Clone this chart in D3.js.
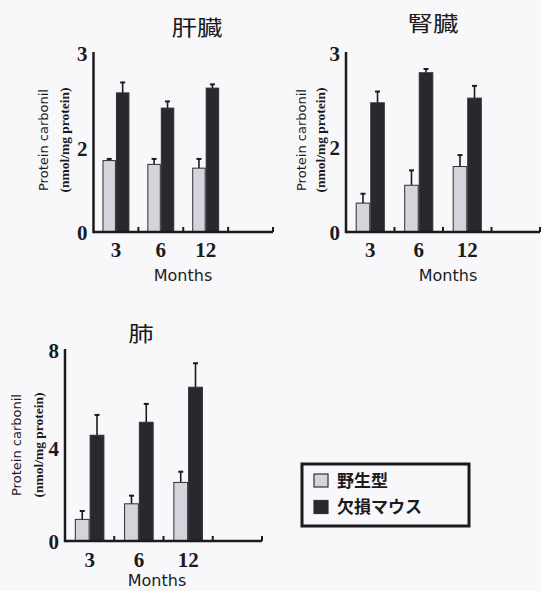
<!DOCTYPE html>
<html>
<head>
<meta charset="utf-8">
<script src="https://cdn.jsdelivr.net/npm/d3@7"></script>
<style>
  html, body { margin: 0; padding: 0; background: #f8f8fb; }
  svg { display: block; }
</style>
</head>
<body>
<svg id="chart" width="541" height="591"></svg>
<script>
// Protein carbonyl content (nmol/mg protein) at 3, 6 and 12 months
const months = ["3", "6", "12"];
const seriesNames = ["野生型", "欠損マウス"];

// 肝臓 (liver)
const liverWild = [1.70, 1.61, 1.52];
const liverWildErr = [0.04, 0.13, 0.22];
const liverKO = [2.58, 2.42, 2.63];
const liverKOErr = [0.11, 0.07, 0.04];
const liverTicks = [0, 2, 3];

// 腎臓 (kidney)
const kidneyWild = [0.68, 1.10, 1.54];
const kidneyWildErr = [0.22, 0.35, 0.27];
const kidneyKO = [2.47, 2.79, 2.52];
const kidneyKOErr = [0.12, 0.04, 0.13];
const kidneyTicks = [0, 2, 3];

// 肺 (lung)
const lungWild = [0.93, 1.60, 2.52];
const lungWildErr = [0.36, 0.35, 0.46];
const lungKO = [4.52, 5.05, 6.48];
const lungKOErr = [0.83, 0.75, 0.98];
const lungTicks = [0, 4, 8];

const colors = { wild: "#d4d4dd", ko: "#27292e", ink: "#1b1b1e" };

const svg = d3.select("#chart");

const panels = [
  { title: "肝臓", wild: liverWild, wildErr: liverWildErr, ko: liverKO, koErr: liverKOErr,
    ticks: liverTicks, x0: 93.5, x1: 273, yRange: [232, 148, 53],
    titleX: 197, titleY: 28, labelX: 44, label2X: 64, labelY: 140, monthsX: 183, monthsY: 275, tickY: 250 },
  { title: "腎臓", wild: kidneyWild, wildErr: kidneyWildErr, ko: kidneyKO, koErr: kidneyKOErr,
    ticks: kidneyTicks, x0: 346, x1: 540, yRange: [232, 147, 53],
    titleX: 433, titleY: 24, labelX: 302, label2X: 320, labelY: 140, monthsX: 448, monthsY: 275, tickY: 250 },
  { title: "肺", wild: lungWild, wildErr: lungWildErr, ko: lungKO, koErr: lungKOErr,
    ticks: lungTicks, x0: 65, x1: 262, yRange: [541, 448, 350],
    titleX: 141, titleY: 334, labelX: 17, label2X: 38, labelY: 445, monthsX: 157, monthsY: 580, tickY: 560 }
];

panels.forEach(p => {
  const g = svg.append("g");
  // four month slots on the axis, the last one left empty
  const x = d3.scaleBand().domain([...months, "24"]).range([p.x0, p.x1]).padding(0);
  const bw = x.bandwidth();
  const inner = d3.scaleBand().domain(["wild", "ko"]).range([bw * 0.2, bw * 0.8]).padding(0);
  const y = d3.scaleLinear().domain(p.ticks).range(p.yRange);
  const base = y(0);

  const rows = [];
  months.forEach((m, i) => {
    rows.push({ m, key: "wild", v: p.wild[i], e: p.wildErr[i] });
    rows.push({ m, key: "ko", v: p.ko[i], e: p.koErr[i] });
  });

  // error whiskers (upper only)
  const cx = d => x(d.m) + inner(d.key) + inner.bandwidth() / 2;
  g.selectAll("line.err").data(rows).join("line")
    .attr("x1", cx).attr("x2", cx)
    .attr("y1", d => y(d.v)).attr("y2", d => y(d.v + d.e))
    .attr("stroke", colors.ink).attr("stroke-width", 1.6);
  g.selectAll("line.cap").data(rows).join("line")
    .attr("x1", d => cx(d) - 2.5).attr("x2", d => cx(d) + 2.5)
    .attr("y1", d => y(d.v + d.e)).attr("y2", d => y(d.v + d.e))
    .attr("stroke", colors.ink).attr("stroke-width", 2);

  // bars
  g.selectAll("rect.bar").data(rows).join("rect")
    .attr("x", d => x(d.m) + inner(d.key) + 0.5)
    .attr("y", d => y(d.v))
    .attr("width", inner.bandwidth() - 1)
    .attr("height", d => base - y(d.v))
    .attr("fill", d => colors[d.key])
    .attr("stroke", "#2e2e33")
    .attr("stroke-width", 1);

  // y axis
  const yAxis = d3.axisLeft(y).tickValues(p.ticks).tickSize(0).tickPadding(6).tickFormat(d3.format("d"));
  const ya = g.append("g").attr("transform", `translate(${p.x0},0)`).call(yAxis);
  ya.select(".domain").remove();
  ya.selectAll("text")
    .attr("font-family", "'Liberation Serif', 'Times New Roman', serif")
    .attr("font-weight", "bold").attr("font-size", 21).attr("fill", colors.ink)
    .attr("dy", "0.35em");
  g.append("line")
    .attr("x1", p.x0).attr("x2", p.x0)
    .attr("y1", y(p.ticks[p.ticks.length - 1]) - 1).attr("y2", base + 1.2)
    .attr("stroke", colors.ink).attr("stroke-width", 2.5);

  // x axis with short upward ticks at slot boundaries
  g.append("line")
    .attr("x1", p.x0).attr("x2", p.x1)
    .attr("y1", base).attr("y2", base)
    .attr("stroke", colors.ink).attr("stroke-width", 2.5);
  const bounds = x.domain().map(d => x(d) + bw);
  g.selectAll("line.xt").data(bounds).join("line")
    .attr("x1", d => d).attr("x2", d => d)
    .attr("y1", base).attr("y2", base - 5)
    .attr("stroke", colors.ink).attr("stroke-width", 2);

  g.selectAll("text.xl").data(months).join("text")
    .attr("x", d => x(d) + inner.range()[0] + (inner.range()[1] - inner.range()[0]) / 2)
    .attr("y", p.tickY)
    .attr("dy", "0.35em")
    .attr("text-anchor", "middle")
    .attr("font-family", "'Liberation Serif', 'Times New Roman', serif")
    .attr("font-weight", "bold").attr("font-size", 21).attr("fill", colors.ink)
    .text(d => d);

  g.append("text")
    .attr("x", p.monthsX).attr("y", p.monthsY).attr("dy", "0.35em")
    .attr("text-anchor", "middle")
    .attr("font-family", "'DejaVu Sans', sans-serif").attr("font-size", 16)
    .attr("fill", colors.ink)
    .text("Months");

  // y-axis title, two rotated lines
  g.append("text")
    .attr("transform", `translate(${p.labelX},${p.labelY}) rotate(-90)`)
    .attr("dy", "0.35em").attr("text-anchor", "middle")
    .attr("font-family", "'DejaVu Sans', sans-serif").attr("font-size", 12.5)
    .attr("textLength", 102).attr("lengthAdjust", "spacingAndGlyphs")
    .attr("fill", colors.ink)
    .text("Protein carbonil");
  g.append("text")
    .attr("transform", `translate(${p.label2X},${p.labelY}) rotate(-90)`)
    .attr("dy", "0.35em").attr("text-anchor", "middle")
    .attr("font-family", "'Liberation Serif', serif").attr("font-weight", "bold").attr("font-size", 13)
    .attr("textLength", 105).attr("lengthAdjust", "spacingAndGlyphs")
    .attr("fill", colors.ink)
    .text("(nmol/mg protein)");

  // panel title
  g.append("text")
    .attr("x", p.titleX).attr("y", p.titleY).attr("dy", "0.35em")
    .attr("text-anchor", "middle")
    .attr("font-family", "'Noto Sans CJK JP', sans-serif").attr("font-size", 21)
    .attr("textLength", p.title.length * 25.5).attr("lengthAdjust", "spacingAndGlyphs")
    .attr("fill", colors.ink)
    .text(p.title);
});

// legend
const legend = svg.append("g").attr("transform", "translate(302,464)");
legend.append("rect")
  .attr("x", 0).attr("y", 0).attr("width", 167).attr("height", 62)
  .attr("fill", "none").attr("stroke", colors.ink).attr("stroke-width", 3);
const items = legend.selectAll("g.item").data(seriesNames).join("g")
  .attr("transform", (d, i) => `translate(12,${10 + i * 26.5})`);
items.append("rect")
  .attr("width", 14).attr("height", 13)
  .attr("fill", (d, i) => i === 0 ? colors.wild : colors.ko)
  .attr("stroke", "#2e2e33").attr("stroke-width", 1.2);
items.append("text")
  .attr("x", 23).attr("y", 7).attr("dy", "0.35em")
  .attr("font-family", "'Noto Sans CJK JP', sans-serif").attr("font-weight", "bold")
  .attr("font-size", 17).attr("fill", colors.ink)
  .text(d => d);
</script>
</body>
</html>
